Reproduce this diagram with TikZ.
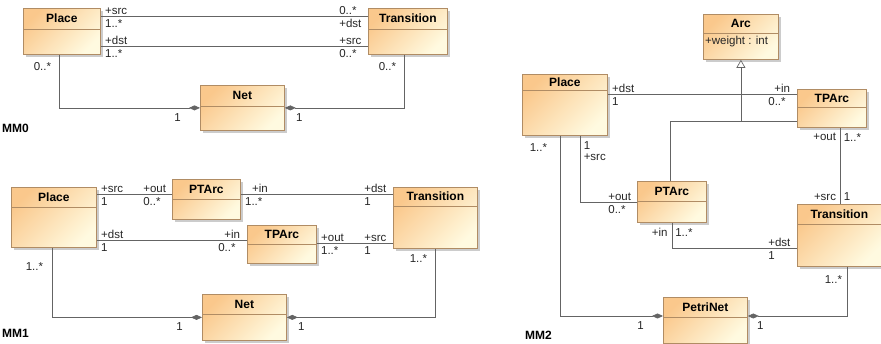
\documentclass[tikz,border=0pt]{standalone}
\usepackage{fontspec}
\setmainfont{Liberation Sans}
\usepackage{tikz}
\usetikzlibrary{arrows.meta,shadows,calc}
\definecolor{clstop}{RGB}{250,200,140}
\definecolor{clsbottom}{RGB}{255,250,224}
\definecolor{clsborder}{RGB}{176,140,100}
\definecolor{assocgray}{RGB}{100,100,100}
\newcommand{\lblfont}{\fontsize{11.5}{13}\selectfont}
\newcommand{\ttlfont}{\fontsize{12}{14}\selectfont\bfseries}
% class box: name, top-left, width, height, header height, title
\newcommand{\umlclass}[6]{%
  \node[classbox, minimum width=#3pt, minimum height=#4pt] (#1) at (#2) {};
  \draw[classrule] ([yshift=-#5pt]#1.north west) -- ([yshift=-#5pt]#1.north east);
  \node[classname] (#1-name) at ([yshift=-0.5*#5pt]#1.north) {#6};
}

\begin{document}
\begin{tikzpicture}[x=1pt, y=-1pt,
  classbox/.style={draw=clsborder, line width=0.8pt, top color=clstop, bottom color=clsbottom, shading angle=45, anchor=north west, inner sep=0pt, drop shadow={shadow xshift=2.5pt, shadow yshift=-2.5pt, fill=black!40, opacity=0.5}},
  classrule/.style={draw=clsborder, line width=0.8pt},
  classname/.style={font=\ttlfont, inner sep=0pt},
  mmtag/.style={font=\ttlfont, anchor=west, inner sep=0pt},
  lbl/.style={font=\lblfont, inner sep=1pt, text=black!85},
  lsa/.style={lbl, pos=0, anchor=south west, xshift=3pt},
  lsb/.style={lbl, pos=0, anchor=north west, xshift=3pt, yshift=-2pt},
  lea/.style={lbl, pos=1, anchor=south west, xshift=-30pt},
  leb/.style={lbl, pos=1, anchor=north west, xshift=-30pt, yshift=-2pt},
  assoc/.style={draw=assocgray, line width=0.7pt},
  comp/.style={assoc, -{Diamond[length=11pt, width=5pt, fill=assocgray]}},
  gen/.style={assoc, -{Triangle[open, length=8pt, width=9pt, fill=white]}}]
\useasboundingbox (0,0) rectangle (881,344);

% MM0
\umlclass{p0}{23,8}{77}{46}{21}{Place}
\umlclass{t0}{368,8}{79}{46}{21}{Transition}
\umlclass{n0}{200,85}{84}{45}{21}{Net}
\node[mmtag] (mm0) at (2,128) {MM0};
\draw[assoc] ([yshift=-8pt]p0.north east) -- node[lsa] (l01) {+src} node[lsb] (l02) {1..*} node[lea] (l03) {0..*} node[leb] (l04) {+dst} ([yshift=-8pt]t0.north west);
\draw[assoc] ([yshift=-38pt]p0.north east) -- node[lsa] (l05) {+dst} node[lsb] (l06) {1..*} node[lea] (l07) {+src} node[leb] (l08) {0..*} ([yshift=-38pt]t0.north west);
\draw[comp] ([xshift=-2.5pt]p0.south) |- node[lbl, pos=0, anchor=north east, xshift=-7pt, yshift=-6pt] (l09) {0..*} node[lbl, pos=1, anchor=north east, xshift=-18pt, yshift=-4pt] (l10) {1} (n0.west);
\draw[comp] ([xshift=-3.5pt]t0.south) |- node[lbl, pos=0, anchor=north east, xshift=-7pt, yshift=-6pt] (l11) {0..*} node[lbl, pos=1, anchor=north west, xshift=10pt, yshift=-4pt] (l12) {1} (n0.east);

% MM1
\umlclass{p1}{11,187}{85}{60}{20}{Place}
\umlclass{pt1}{172,179}{68}{40}{20}{PTArc}
\umlclass{tp1}{247,225}{69}{38}{19}{TPArc}
\umlclass{t1}{393,187}{84}{61}{19}{Transition}
\umlclass{n1}{202,294}{84}{46}{20}{Net}
\node[mmtag] (mm1) at (2,333) {MM1};
\draw[assoc] ([yshift=-7pt]p1.north east) -- node[lsa] (l13) {+src} node[lsb] (l14) {1} node[lea] (l15) {+out} node[leb] (l16) {0..*} ([yshift=-15pt]pt1.north west);
\draw[assoc] ([yshift=-15pt]pt1.north east) -- node[lsa, xshift=7pt] (l17) {+in} node[lsb] (l18) {1..*} node[lea] (l19) {+dst} node[leb] (l20) {1} ([yshift=-7pt]t1.north west);
\draw[assoc] ([yshift=-53pt]p1.north east) -- node[lsa] (l21) {+dst} node[lsb] (l22) {1} node[lea, xshift=6pt] (l23) {+in} node[leb] (l24) {0..*} ([yshift=-15pt]tp1.north west);
\draw[assoc] ([yshift=-18pt]tp1.north east) -- node[lsa] (l25) {+out} node[lsb] (l26) {1..*} node[lea] (l27) {+src} node[leb] (l28) {1} ([yshift=-56pt]t1.north west);
\draw[comp] ([xshift=-1.5pt]p1.south) |- node[lbl, pos=0, anchor=north east, xshift=-8pt, yshift=-13pt] (l29) {1..*} node[lbl, pos=1, anchor=north east, xshift=-18pt, yshift=-4pt] (l30) {1} (n1.west);
\draw[comp] (t1.south) |- node[lbl, pos=0, anchor=north east, xshift=-7pt, yshift=-4pt] (l31) {1..*} node[lbl, pos=1, anchor=north west, xshift=10pt, yshift=-4pt] (l32) {1} (n1.east);

% MM2
\umlclass{arc}{703,14}{75}{45}{19}{Arc}
\node[lbl, anchor=north west] (arcw) at ([xshift=1pt, yshift=-21pt]arc.north west) {+weight : int};
\umlclass{p2}{522,74}{85}{61}{16}{Place}
\umlclass{tp2}{797,89}{69}{38}{18}{TPArc}
\umlclass{pt2}{637,181}{69}{41}{20}{PTArc}
\umlclass{t2}{797,204}{84}{62}{20}{Transition}
\umlclass{pn2}{663,297}{84}{46}{20}{PetriNet}
\node[mmtag] (mm2) at (525,335) {MM2};
\draw[assoc] ([yshift=-20pt]p2.north east) -- node[lsa] (l33) {+dst} node[lsb] (l34) {1} node[lea, xshift=6pt] (l35) {+in} node[leb] (l36) {0..*} ([yshift=-5pt]tp2.north west);
% generalization
\coordinate (genj) at ([yshift=-62pt]arc.south);
\draw[assoc] ([xshift=-1.5pt]pt2.north) |- ([yshift=-32pt]tp2.north west);
\draw[gen] (genj) -- (arc.south);
\coordinate (tpo) at ([xshift=8.5pt]tp2.south);
\draw[assoc] (tpo) -- node[lbl, pos=0, anchor=north east, xshift=-3pt, yshift=-4pt] (l37) {+out} node[lbl, pos=0, anchor=north west, xshift=2pt, yshift=-4pt] (l38) {1..*} node[lbl, pos=1, anchor=south east, xshift=-3pt, yshift=2pt] (l39) {+src} node[lbl, pos=1, anchor=south west, xshift=2pt, yshift=2pt] (l40) {1} (tpo |- t2.north);
\draw[assoc] ([xshift=15.5pt]p2.south) |- node[lbl, pos=0, anchor=north west, xshift=2pt, yshift=-4pt] (l41) {1} node[lbl, pos=0, anchor=north west, xshift=2pt, yshift=-17pt] (l42) {+src} node[lea] (l43) {+out} node[leb] (l44) {0..*} (pt2.west);
\draw[assoc] (pt2.south) |- node[lbl, pos=0, anchor=north east, xshift=-3pt, yshift=-4pt] (l45) {+in} node[lbl, pos=0, anchor=north west, xshift=2pt, yshift=-4pt] (l46) {1..*} node[lea] (l47) {+dst} node[leb] (l48) {1} ([yshift=-44pt]t2.north west);
\draw[comp] ([xshift=-4.5pt]p2.south) |- node[lbl, pos=0, anchor=north east, xshift=-12pt, yshift=-6pt] (l49) {1..*} node[lbl, pos=1, anchor=north east, xshift=-18pt, yshift=-4pt] (l50) {1} ([yshift=-19pt]pn2.north west);
\draw[comp] ([xshift=8pt]t2.south) |- node[lbl, pos=0, anchor=north east, xshift=-4pt, yshift=-7pt] (l51) {1..*} node[lbl, pos=1, anchor=north west, xshift=8pt, yshift=-4pt] (l52) {1} ([yshift=-19pt]pn2.north east);
\end{tikzpicture}
\end{document}
